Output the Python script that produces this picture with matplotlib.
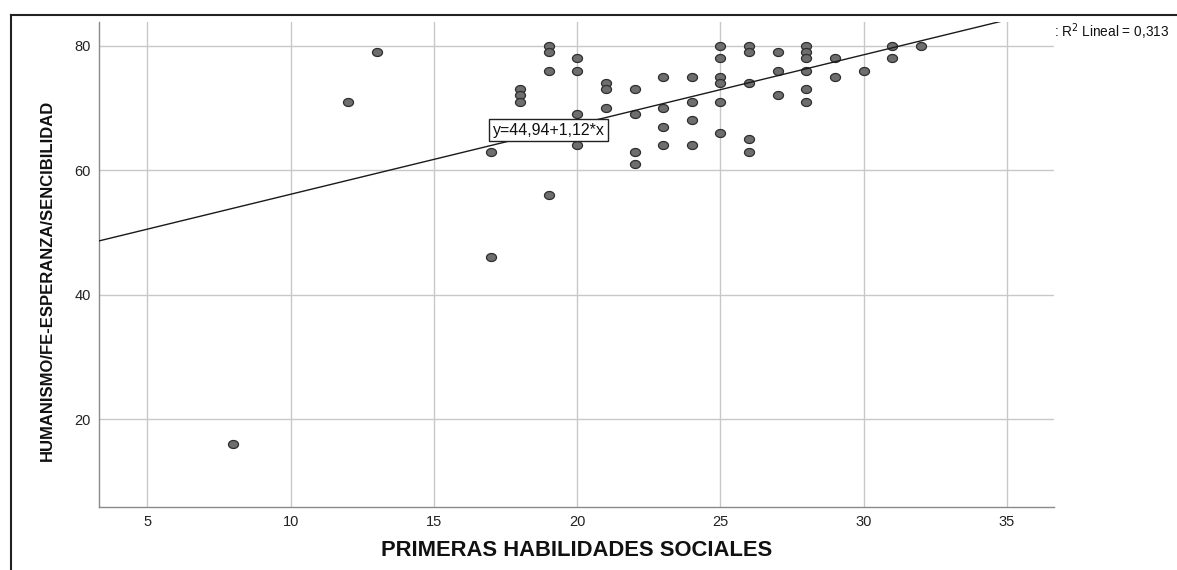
import numpy as np
import matplotlib
matplotlib.use("Agg")
import matplotlib.pyplot as plt
from matplotlib.path import Path
from matplotlib.lines import Line2D

# ---- data ----
x_vals = [8, 12, 13, 17, 17,
          18, 18, 18,
          19, 19, 19, 19,
          20, 20, 20, 20,
          21, 21, 21,
          22, 22, 22, 22,
          23, 23, 23, 23,
          24, 24, 24, 24,
          25, 25, 25, 25, 25, 25,
          26, 26, 26, 26, 26,
          27, 27, 27,
          28, 28, 28, 28, 28, 28,
          29, 29,
          30,
          31, 31,
          32]
y_vals = [16, 71, 79, 63, 46,
          73, 72, 71,
          80, 79, 76, 56,
          78, 76, 69, 64,
          74, 73, 70,
          73, 69, 63, 61,
          75, 70, 67, 64,
          75, 71, 68, 64,
          80, 78, 75, 74, 71, 66,
          80, 79, 74, 65, 63,
          79, 76, 72,
          80, 79, 78, 76, 73, 71,
          78, 75,
          76,
          80, 78,
          80]
intercept = 44.94
slope = 1.12
r2_text = ": R$^2$ Lineal = 0,313"
eq_text = "y=44,94+1,12*x"
x_ticks = [5, 10, 15, 20, 25, 30, 35]
y_ticks = [20, 40, 60, 80]
x_label = "PRIMERAS HABILIDADES SOCIALES"
y_label = "HUMANISMO/FE-ESPERANZA/SENCIBILIDAD"

plt.rcParams['font.family'] = ['Liberation Sans', 'DejaVu Sans']

W, H = 1177, 570
fig = plt.figure(figsize=(W / 100, H / 100), dpi=100)
fig.patch.set_facecolor('white')

def fx(px):
    return px / W

def fy(py):
    return 1 - py / H

ax_left, ax_right, ax_top, ax_bottom = 99, 1054, 22, 506.5
ax = fig.add_axes([fx(ax_left), fy(ax_bottom), fx(ax_right - ax_left), (ax_bottom - ax_top) / H])
ax.set_xlim(3.31, 36.64)
ax.set_ylim(6.0, 83.8)

ax.set_xticks(x_ticks)
ax.set_yticks(y_ticks)
ax.grid(True, color='#c8c8c8', linewidth=1.0)
ax.set_axisbelow(True)
for s in ['top', 'right']:
    ax.spines[s].set_visible(False)
for s in ['left', 'bottom']:
    ax.spines[s].set_color('#8a8a8a')
    ax.spines[s].set_linewidth(1.0)
ax.tick_params(length=0, labelsize=10.5, labelcolor='#222222', pad=6)

# ellipse marker (images slightly wider than tall)
t = np.linspace(0, 2 * np.pi, 60)
ell = Path(np.column_stack([np.cos(t), 0.8 * np.sin(t)]), closed=True)

ax.scatter(x_vals, y_vals, marker=ell, s=52, facecolor='#6e6e6e',
           edgecolor='#2e2e2e', linewidth=0.9, zorder=3)

xl = np.array(ax.get_xlim())
ax.plot(xl, intercept + slope * xl, color='#1a1a1a', linewidth=1.0, zorder=4)

ax.text(19.0, 66.4, eq_text, ha='center', va='center', fontsize=11.5,
        color='#111111', zorder=5,
        bbox=dict(boxstyle='square,pad=0.22', facecolor='white', edgecolor='#222222', linewidth=1.0))

fig.text(fx(1054), fy(31.5), r2_text, ha='left', va='center', fontsize=9.8, color='#111111')

fig.text(fx(577), fy(550.7), x_label, ha='center', va='center', fontsize=15.8,
         fontweight='bold', color='#111111')
fig.text(fx(47), fy(280), y_label, ha='center', va='center', fontsize=12,
         fontweight='bold', rotation=90, color='#111111')

# outer frame (partially visible)
fig.add_artist(Line2D([fx(11), fx(11)], [fy(15), fy(570)], color='#222222', linewidth=1.5))
fig.add_artist(Line2D([fx(11), fx(1177)], [fy(15), fy(15)], color='#222222', linewidth=1.5))

fig.savefig('out.png', dpi=100, facecolor='white')
